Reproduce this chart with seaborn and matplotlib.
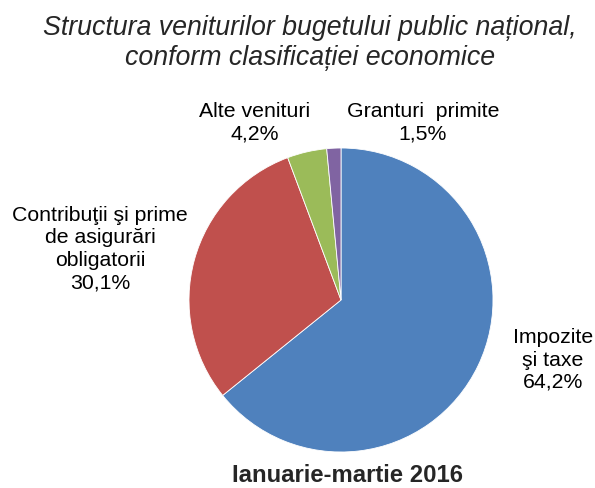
import matplotlib.pyplot as plt
import seaborn as sns

# date
categorii = ["Impozite\nşi taxe", "Contribuţii şi prime\nde asigurări\nobligatorii",
             "Alte venituri", "Granturi  primite"]
valori = [64.2, 30.1, 4.2, 1.5]
culori = ["#4F81BD", "#C0504D", "#9BBB59", "#8064A2"]

titlu = "Structura veniturilor bugetului public național,\nconform clasificației economice"
subtitlu = "Ianuarie-martie 2016"

# pozitii etichete (pixeli in figura)
pozitii = [(553, 360), (100, 249), (255, 123), (423, 123)]

sns.set_theme(style="white")
plt.rcParams['font.family'] = ['Liberation Sans', 'DejaVu Sans']

W, H = 595, 488
fig = plt.figure(figsize=(W / 100, H / 100), dpi=100)

cx, cy, r = 341, 300, 152
ax = fig.add_axes([(cx - r) / W, (H - cy - r) / H, 2 * r / W, 2 * r / H])
ax.pie(valori, colors=culori, startangle=90, counterclock=False,
       wedgeprops=dict(edgecolor="white", linewidth=0.6))
ax.set_xlim(-1, 1)
ax.set_ylim(-1, 1)
ax.set_aspect("equal")
ax.axis("off")

for cat, val, (px, py) in zip(categorii, valori, pozitii):
    txt = f"{cat}\n{val:.1f}%".replace(".", ",")
    fig.text(px / W, 1 - py / H, txt, ha="center", va="center",
             fontsize=15.3, color="black", linespacing=1.23)

fig.text(310 / W, 1 - 43 / H, titlu, ha="center", va="center", fontsize=19.3,
         style="italic", color="#262626", linespacing=1.2)
fig.text(348 / W, 1 - 476 / H, subtitlu, ha="center", va="center", fontsize=17.2,
         fontweight="bold", color="#262626")

fig.savefig("out.png", dpi=100)
